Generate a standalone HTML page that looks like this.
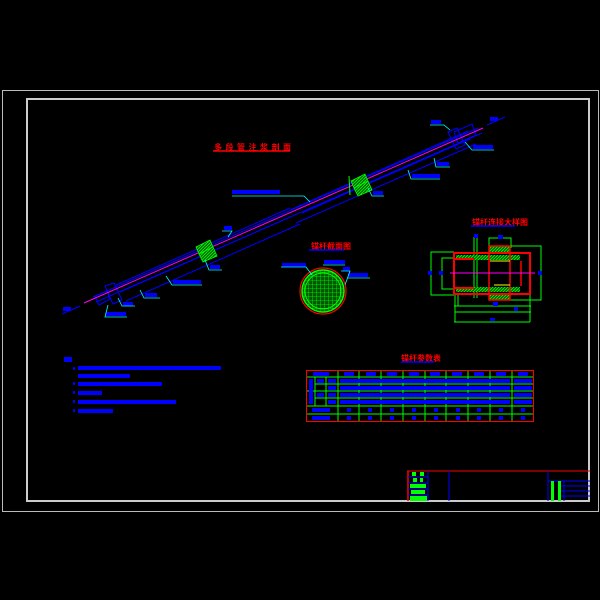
<!DOCTYPE html>
<html><head><meta charset="utf-8"><style>
html,body{margin:0;padding:0;background:#000;}
svg{display:block}
text{font-family:"Liberation Sans","Noto Sans CJK SC",sans-serif;font-weight:bold}
</style></head><body>
<svg width="600" height="600" viewBox="0 0 600 600" xmlns="http://www.w3.org/2000/svg">
<defs>
<pattern id="h" width="3" height="3" patternUnits="userSpaceOnUse"><rect width="3" height="3" fill="#060"/><path d="M0,3 L3,0" stroke="#0f0" stroke-width="0.8"/></pattern>
<pattern id="m" width="4" height="4" patternUnits="userSpaceOnUse"><rect width="4" height="4" fill="#050"/><path d="M0,0 H4 M0,0 V4" stroke="#0f0" stroke-width="0.8"/></pattern>
</defs>
<rect width="600" height="600" fill="#000"/>
<rect x="2.5" y="90.5" width="596" height="421" fill="none" stroke="#bbb" stroke-width="1"/>
<rect x="27" y="99" width="562" height="402" fill="none" stroke="#ccc" stroke-width="2"/>

<!-- title -->
<text x="214" y="150" fill="#f00" font-size="8" letter-spacing="3.5">多段管注浆剖面</text>
<line x1="213" y1="151" x2="290" y2="151" stroke="#f00" stroke-width="1.5"/>

<!-- main anchor -->
<g stroke="#00f" stroke-width="1" fill="none">
<line x1="62" y1="314" x2="80" y2="306"/>
<line x1="487" y1="125" x2="505" y2="117"/>
<line x1="93" y1="297" x2="478" y2="128"/>
<line x1="96" y1="302" x2="482" y2="133"/>
<line x1="116" y1="285" x2="290" y2="208"/>
<line x1="126" y1="301" x2="300" y2="224"/>
<line x1="290" y1="210" x2="468" y2="131"/>
<line x1="296" y1="223" x2="476" y2="144"/>
<line x1="120" y1="292" x2="290" y2="217"/>
<line x1="302" y1="213" x2="470" y2="139"/>
<polygon points="105,286 114,283 122,300 113,304"/>
<polygon points="448,132 457,128 465,145 456,149"/>
<polygon points="454,132 472,124 476,135 458,143"/>
<polygon points="95,296 107,291 110,299 99,305"/>
</g>
<line x1="84" y1="303" x2="483" y2="128" stroke="#f0f" stroke-width="1"/>
<!-- couplers -->
<g fill="url(#h)" stroke="#0f0" stroke-width="0.8">
<polygon points="196,247 210,240 213,247 199,254"/>
<polygon points="199,254 213,247 217,256 203,262"/>
<polygon points="351,181 365,174 368,181 354,188"/>
<polygon points="354,188 368,181 372,190 358,196"/>
</g>
<line x1="349" y1="176" x2="350" y2="195" stroke="#0f0"/>
<!-- labels -->
<g fill="#00f">
<rect x="232" y="190" width="48" height="4"/>
<rect x="431" y="120" width="10" height="4"/>
<rect x="473" y="145" width="20" height="4"/>
<rect x="437" y="162" width="12" height="4"/>
<rect x="412" y="174" width="28" height="4"/>
<rect x="373" y="191" width="10" height="4"/>
<rect x="224" y="226" width="8" height="4"/>
<rect x="210" y="265" width="10" height="4"/>
<rect x="173" y="280" width="28" height="4"/>
<rect x="145" y="293" width="12" height="4"/>
<rect x="123" y="302" width="10" height="4"/>
<rect x="106" y="312" width="20" height="4"/>
<rect x="63" y="307" width="8" height="4"/>
<rect x="490" y="117" width="8" height="4"/>
</g>
<g stroke="#0ff" stroke-width="0.8" fill="none">
<polyline points="232,196 304,196 310,202"/>
<polyline points="430,125 444,125 450,130"/>
<polyline points="494,150 472,150 465,142"/>
<polyline points="450,167 436,167 434,158"/>
<polyline points="440,179 411,179 408,170"/>
<polyline points="384,196 372,196 368,188"/>
<polyline points="222,270 209,270 205,260"/>
<polyline points="202,285 172,285 166,276"/>
<polyline points="160,298 144,298 140,290"/>
<polyline points="135,306 122,306 118,298"/>
<polyline points="127,317 105,317 108,305"/>
<polyline points="222,231 232,231 228,237"/>
</g>

<!-- cross section -->
<text x="311" y="249" fill="#f00" font-size="8">锚杆截面图</text>
<line x1="309" y1="250" x2="344" y2="250" stroke="#00f" stroke-width="1.5"/>
<circle cx="323" cy="291" r="23" fill="none" stroke="#f00" stroke-width="1.2"/>
<circle cx="323" cy="291" r="21" fill="url(#m)" stroke="#0f0" stroke-width="1.5"/>
<circle cx="323" cy="291" r="18" fill="none" stroke="#0f0" stroke-width="1"/>
<g fill="#00f"><rect x="282" y="263" width="24" height="4"/><rect x="324" y="260" width="21" height="4"/><rect x="343" y="267" width="7" height="4"/><rect x="348" y="273" width="20" height="4"/></g>
<g stroke="#0ff" stroke-width="0.8" fill="none">
<polyline points="281,267 306,267 312,275"/><polyline points="323,265 345,265"/><polyline points="347,278 370,278"/><polyline points="341,271 350,271 345,285"/>
</g>

<!-- detail -->
<text x="472" y="225" fill="#f00" font-size="8">锚杆连接大样图</text>
<line x1="471" y1="226" x2="515" y2="226" stroke="#00f" stroke-width="1.5"/>
<g stroke="#0f0" stroke-width="1" fill="none">
<polyline points="454,252 431,252 431,295 454,295"/>
<polyline points="454,258 442,258 442,289 454,289"/>
<line x1="474" y1="237" x2="474" y2="298"/><line x1="477" y1="237" x2="477" y2="298"/>
<polyline points="489,248 489,238 511,238 511,248"/>
<polyline points="510,246 541,246 541,300 510,300"/>
<line x1="454" y1="306" x2="531" y2="306"/>
<line x1="455" y1="312" x2="531" y2="312"/>
<line x1="454" y1="322" x2="530" y2="322"/>
<line x1="455" y1="294" x2="455" y2="322"/><line x1="530" y1="294" x2="530" y2="322"/>
<polyline points="458,294 458,306 489,306"/>
</g>
<rect x="456" y="255" width="64" height="5" fill="url(#h)"/>
<rect x="456" y="287" width="64" height="5" fill="url(#h)"/>
<rect x="489" y="246" width="21" height="7" fill="url(#h)" stroke="#f00" stroke-width="1.5"/>
<rect x="489" y="294" width="21" height="6" fill="url(#h)" stroke="#f00" stroke-width="1.5"/>
<rect x="454" y="253" width="76" height="41" fill="none" stroke="#f00" stroke-width="2"/>
<line x1="455" y1="259" x2="474" y2="259" stroke="#f00" stroke-width="2"/>
<line x1="455" y1="288" x2="474" y2="288" stroke="#f00" stroke-width="2"/>
<line x1="489" y1="253" x2="489" y2="294" stroke="#f00" stroke-width="1.5"/>
<line x1="510" y1="253" x2="510" y2="294" stroke="#f00" stroke-width="1.5"/>
<line x1="521" y1="261" x2="521" y2="286" stroke="#f00" stroke-width="1.5"/>
<line x1="490" y1="261" x2="510" y2="261" stroke="#ff0"/>
<line x1="494" y1="285" x2="510" y2="285" stroke="#ff0"/>
<line x1="450" y1="273" x2="535" y2="273" stroke="#f0f"/>
<g fill="#00f"><rect x="428" y="271" width="4" height="4"/><rect x="439" y="271" width="4" height="4"/><rect x="538" y="271" width="4" height="4"/><rect x="474" y="234" width="4" height="4"/><rect x="498" y="235" width="5" height="4"/><rect x="493" y="302" width="5" height="4"/><rect x="514" y="307" width="4" height="4"/><rect x="490" y="318" width="5" height="3"/></g>

<!-- table -->
<text x="401" y="361" fill="#f00" font-size="8">锚杆参数表</text>
<line x1="401" y1="362" x2="434" y2="362" stroke="#00f" stroke-width="1.5"/>
<rect x="306.5" y="370.5" width="227" height="51" fill="none" stroke="#f00" stroke-width="1"/>
<g stroke="#0f0" stroke-width="1">
<line x1="307" y1="377" x2="533" y2="377"/><line x1="315" y1="384" x2="533" y2="384"/>
<line x1="307" y1="391" x2="533" y2="391"/><line x1="315" y1="398" x2="533" y2="398"/>
<line x1="307" y1="406" x2="533" y2="406"/><line x1="307" y1="414" x2="533" y2="414"/>
<line x1="338" y1="371" x2="338" y2="421"/><line x1="359" y1="371" x2="359" y2="421"/>
<line x1="381" y1="371" x2="381" y2="421"/><line x1="403" y1="371" x2="403" y2="421"/>
<line x1="425" y1="371" x2="425" y2="421"/><line x1="446" y1="371" x2="446" y2="421"/>
<line x1="468" y1="371" x2="468" y2="421"/><line x1="490" y1="371" x2="490" y2="421"/>
<line x1="512" y1="371" x2="512" y2="421"/><line x1="315" y1="377" x2="315" y2="406"/>
<line x1="326" y1="377" x2="326" y2="406"/>
</g>
<g fill="#00f">
<rect x="313" y="372" width="16" height="4"/>
<rect x="309" y="379" width="4" height="25"/>
<rect x="317" y="379" width="7" height="4"/><rect x="317" y="393" width="7" height="4"/>
<rect x="328" y="379" width="8" height="4"/><rect x="328" y="386" width="8" height="4"/><rect x="328" y="393" width="8" height="4"/><rect x="328" y="400" width="8" height="4"/>
<rect x="340" y="379" width="170" height="4"/><rect x="340" y="386" width="170" height="4"/>
<rect x="340" y="393" width="170" height="4"/><rect x="340" y="400" width="170" height="4"/>
<rect x="514" y="379" width="18" height="4"/><rect x="514" y="386" width="18" height="4"/>
<rect x="514" y="393" width="18" height="4"/><rect x="514" y="400" width="18" height="4"/>
<rect x="312" y="408" width="18" height="4"/><rect x="312" y="416" width="18" height="4"/>
<rect x="344" y="372" width="10" height="4"/><rect x="366" y="372" width="10" height="4"/><rect x="387" y="372" width="10" height="4"/><rect x="409" y="372" width="10" height="4"/><rect x="430" y="372" width="10" height="4"/><rect x="452" y="372" width="10" height="4"/><rect x="474" y="372" width="10" height="4"/><rect x="496" y="372" width="10" height="4"/><rect x="518" y="372" width="10" height="4"/>
<rect x="347" y="408" width="4" height="4"/><rect x="368" y="408" width="4" height="4"/><rect x="390" y="408" width="4" height="4"/><rect x="412" y="408" width="4" height="4"/><rect x="434" y="408" width="4" height="4"/><rect x="456" y="408" width="4" height="4"/><rect x="477" y="408" width="4" height="4"/><rect x="499" y="408" width="4" height="4"/><rect x="521" y="408" width="4" height="4"/>
<rect x="347" y="416" width="4" height="4"/><rect x="368" y="416" width="4" height="4"/><rect x="390" y="416" width="4" height="4"/><rect x="412" y="416" width="4" height="4"/><rect x="434" y="416" width="4" height="4"/><rect x="456" y="416" width="4" height="4"/><rect x="477" y="416" width="4" height="4"/><rect x="499" y="416" width="4" height="4"/><rect x="521" y="416" width="4" height="4"/>
</g>

<!-- notes -->
<g fill="#00f">
<rect x="64" y="357" width="8" height="5"/>
<rect x="73" y="367" width="2" height="3"/><rect x="78" y="366" width="143" height="4"/>
<rect x="78" y="374" width="52" height="4"/>
<rect x="73" y="382" width="2" height="3"/><rect x="78" y="382" width="84" height="4"/>
<rect x="73" y="391" width="2" height="3"/><rect x="78" y="391" width="24" height="4"/>
<rect x="73" y="400" width="2" height="3"/><rect x="78" y="400" width="98" height="4"/>
<rect x="73" y="409" width="2" height="3"/><rect x="78" y="409" width="35" height="4"/>
</g>

<!-- title block -->
<line x1="407" y1="471" x2="590" y2="471" stroke="#f00" stroke-width="1"/>
<line x1="408" y1="471" x2="408" y2="501" stroke="#f00" stroke-width="1.5"/>
<g stroke="#00f" stroke-width="1">
<line x1="428" y1="471" x2="428" y2="501"/><line x1="449" y1="471" x2="449" y2="501"/>
<line x1="548" y1="471" x2="548" y2="501"/><line x1="564" y1="481" x2="564" y2="501"/>
<line x1="408" y1="477" x2="428" y2="477"/><line x1="408" y1="483" x2="428" y2="483"/>
<line x1="408" y1="489" x2="428" y2="489"/><line x1="408" y1="495" x2="428" y2="495"/>
<line x1="548" y1="481" x2="590" y2="481"/><line x1="560" y1="486" x2="590" y2="486"/>
<line x1="560" y1="491" x2="590" y2="491"/><line x1="560" y1="496" x2="590" y2="496"/>
</g>
<g fill="#0f0">
<rect x="412" y="472" width="4" height="4"/><rect x="420" y="472" width="4" height="4"/>
<rect x="413" y="478" width="4" height="4"/><rect x="420" y="478" width="3" height="4"/>
<rect x="410" y="484" width="16" height="4"/>
<rect x="411" y="490" width="14" height="4"/>
<rect x="410" y="496" width="17" height="5"/>
<rect x="551" y="481" width="3" height="20"/><rect x="558" y="481" width="3" height="20"/>
</g>
</svg>
</body></html>
